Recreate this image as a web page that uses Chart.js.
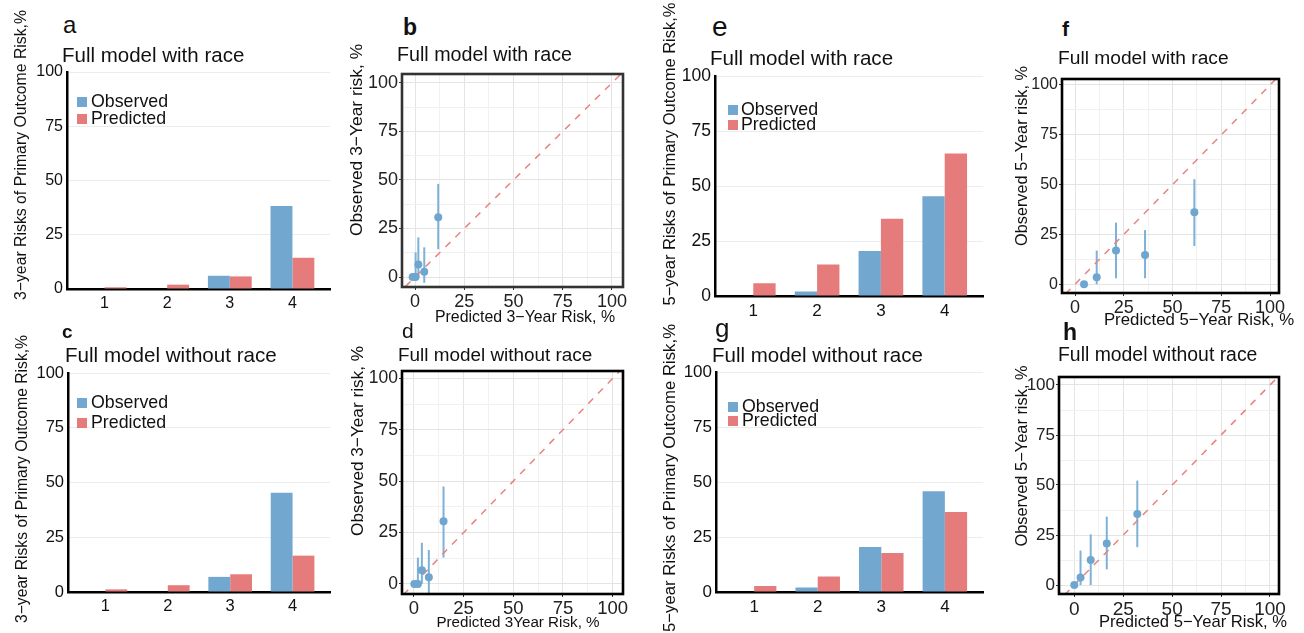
<!DOCTYPE html>
<html>
<head>
<meta charset="utf-8">
<script src="https://cdn.jsdelivr.net/npm/chart.js@4/dist/chart.umd.min.js"></script>
<style>
  html, body { margin: 0; padding: 0; background: #fff; }
  body { width: 1304px; height: 633px; overflow: hidden; position: relative; font-family: "Liberation Sans", Arial, sans-serif; }
  canvas { position: absolute; }
  .t { position: absolute; white-space: nowrap; color: #111; line-height: 1; z-index: 5; }
  .sq { position: absolute; width: 10px; height: 10px; z-index: 5; }
</style>
</head>
<body>
<script>
// ---------------- DATA ----------------
const riskGroups = [1, 2, 3, 4];
const barTicks = [0, 25, 50, 75, 100];
const calTicks = [0, 12.5, 25, 37.5, 50, 62.5, 75, 87.5, 100];
const identityLine = [-20, 120];

// (a) 3-year, with race
const obs3yRace = [0, 0, 6.1, 38.3];
const pred3yRace = [0.8, 2.0, 5.8, 14.4];
// (c) 3-year, without race
const obs3yNoRace = [0, 0, 6.9, 45.3];
const pred3yNoRace = [1.2, 3.1, 8.1, 16.6];
// (e) 5-year, with race
const obs5yRace = [0, 2.1, 20.5, 45.4];
const pred5yRace = [5.8, 14.4, 35.2, 64.9];
// (g) 5-year, without race
const obs5yNoRace = [0, 2.1, 20.5, 45.8];
const pred5yNoRace = [2.7, 7.0, 17.7, 36.4];

// (b) calibration 3-year, with race
const calB_pred = [-1.2, 0.3, 1.7, 4.7, 11.8];
const calB_obs  = [0, 0, 6.5, 2.7, 30.8];
const calB_lo   = [0, 0, 0, -3, 14.3];
const calB_hi   = [0, 12.7, 20.4, 15.3, 48.0];
// (d) calibration 3-year, without race
const calD_pred = [0.2, 2.0, 4.0, 7.5, 14.9];
const calD_obs  = [0, 0, 6.6, 3.3, 30.5];
const calD_lo   = [0, 0, 0, -6, 12.8];
const calD_hi   = [0, 12.8, 20.0, 16.5, 47.4];
// (f) calibration 5-year, with race
const calF_pred = [4.6, 11.1, 21.0, 35.9, 61.2];
const calF_obs  = [0, 3.5, 16.9, 14.7, 36.1];
const calF_lo   = [0, 0, 3.0, 3.0, 19.2];
const calF_hi   = [0, 16.9, 30.9, 27.2, 52.7];
// (h) calibration 5-year, without race
const calH_pred = [0, 3.2, 8.4, 16.6, 32.2];
const calH_obs  = [0, 3.7, 12.5, 20.8, 35.5];
const calH_lo   = [0, 0, 0, 7.8, 18.9];
const calH_hi   = [0, 17.2, 25.3, 34.2, 52.2];

// ---------------- STYLE ----------------
const FONT = '"Liberation Sans", Arial, sans-serif';
const BLUE = '#72A7CF';
const RED = '#E57C7B';
const PT_BLUE = '#6FA6D0';
const ERR_BLUE = '#7DB1D7';
const DIAG = '#E8837F';

function addText(txt, opts) {
  const d = document.createElement('div');
  d.className = 't';
  d.textContent = txt;
  d.style.fontSize = opts.size + 'px';
  if (opts.bold) d.style.fontWeight = 'bold';
  if (opts.rot) {
    d.style.left = opts.cx + 'px'; d.style.top = opts.cy + 'px';
    d.style.transform = 'translate(-50%,-50%) rotate(-90deg)';
  } else if (opts.center) {
    d.style.left = opts.cx + 'px'; d.style.top = opts.cy + 'px';
    d.style.transform = 'translate(-50%,-50%)';
  } else if (opts.baseline !== undefined) {
    d.style.left = opts.x + 'px';
    d.style.top = (opts.baseline - 0.8465 * opts.size) + 'px';
  } else {
    d.style.left = opts.x + 'px'; d.style.top = opts.cy + 'px';
    d.style.transform = 'translateY(-50%)';
  }
  document.body.appendChild(d);
}

function addLegend(sqX, textX, cyObs, cyPred, size) {
  [[BLUE, 'Observed', cyObs], [RED, 'Predicted', cyPred]].forEach(([col, lab, cy]) => {
    const s = document.createElement('div');
    s.className = 'sq';
    s.style.left = sqX + 'px'; s.style.top = (cy - 5) + 'px'; s.style.background = col;
    document.body.appendChild(s);
    addText(lab, {x: textX, cy: cy, size: size});
  });
}

function makeCanvas(left, top, w, h) {
  const c = document.createElement('canvas');
  c.width = w; c.height = h;
  c.style.left = left + 'px'; c.style.top = top + 'px';
  c.style.width = w + 'px'; c.style.height = h + 'px';
  document.body.appendChild(c);
  return c;
}

const framePlugin = {
  id: 'frame',
  afterDraw(chart, args, o) {
    if (!o || !o.show) return;
    const {ctx, chartArea: a} = chart;
    ctx.save();
    ctx.strokeStyle = o.color; ctx.lineWidth = o.width;
    ctx.strokeRect(a.left, a.top, a.right - a.left, a.bottom - a.top);
    ctx.restore();
  }
};

const errorBarPlugin = {
  id: 'errorBars',
  beforeDatasetsDraw(chart) {
    const {ctx, chartArea: a, scales: {x, y}} = chart;
    chart.data.datasets.forEach(ds => {
      if (!ds.errLow) return;
      ctx.save();
      ctx.beginPath();
      ctx.rect(a.left, a.top, a.right - a.left, a.bottom - a.top);
      ctx.clip();
      ctx.strokeStyle = ERR_BLUE; ctx.lineWidth = 2;
      ds.data.forEach((p, i) => {
        const lo = ds.errLow[i], hi = ds.errHigh[i];
        if (hi - lo <= 0) return;
        const px = x.getPixelForValue(p.x);
        ctx.beginPath();
        ctx.moveTo(px, y.getPixelForValue(lo));
        ctx.lineTo(px, y.getPixelForValue(hi));
        ctx.stroke();
      });
      ctx.restore();
    });
  }
};

function barPanel(area, obs, pred, fy, fx) {
  const yW = 50, xH = 34, pt = 14, pr = 8;
  const c = makeCanvas(area.l - yW, area.t - pt, area.r - area.l + yW + pr, area.b - area.t + pt + xH);
  new Chart(c, {
    type: 'bar',
    data: {
      datasets: [
        {label: 'Observed', data: riskGroups.map((g, i) => ({x: g, y: obs[i]})), backgroundColor: BLUE, borderWidth: 0},
        {label: 'Predicted', data: riskGroups.map((g, i) => ({x: g, y: pred[i]})), backgroundColor: RED, borderWidth: 0}
      ]
    },
    options: {
      responsive: false, animation: false, devicePixelRatio: 1,
      layout: {padding: {top: pt, right: pr, left: 0, bottom: 0}},
      plugins: {legend: {display: false}, tooltip: {enabled: false}},
      datasets: {bar: {categoryPercentage: 0.7, barPercentage: 1}},
      scales: {
        x: {
          type: 'linear', min: 0.4, max: 4.6, offset: false,
          afterBuildTicks: s => { s.ticks = riskGroups.map(v => ({value: v})); },
          afterFit: s => { s.height = xH; },
          grid: {display: false, drawTicks: false, offset: false},
          border: {display: true, color: '#000', width: 2.5},
          ticks: {font: {family: FONT, size: fx}, color: '#111', padding: 5, autoSkip: false, maxRotation: 0, callback: v => String(v)}
        },
        y: {
          type: 'linear', min: 0, max: 100,
          afterBuildTicks: s => { s.ticks = barTicks.map(v => ({value: v})); },
          afterFit: s => { s.width = yW; },
          grid: {color: '#ececec', lineWidth: 1, drawTicks: false},
          border: {display: true, color: '#000', width: 2.5},
          ticks: {font: {family: FONT, size: fy}, color: '#111', padding: 4, autoSkip: false, callback: v => String(v)}
        }
      }
    }
  });
}

function calPanel(area, xr, yr, px, py, lo, hi, fy, fx, frameColor) {
  const yW = 50, xH = 34, pt = 14, pr = 22;
  const c = makeCanvas(area.l - yW, area.t - pt, area.r - area.l + yW + pr, area.b - area.t + pt + xH);
  const gridCol = ctx => (ctx.tick && ctx.tick.value % 25 === 0) ? '#e4e4e4' : '#f1f1f1';
  const tickCol = ctx => (ctx.tick && ctx.tick.value % 25 === 0) ? '#333' : 'rgba(0,0,0,0)';
  const axisCommon = (fs) => ({
    type: 'linear',
    afterBuildTicks: s => { s.ticks = calTicks.map(v => ({value: v})); },
    grid: {color: gridCol, lineWidth: 1, drawTicks: true, tickLength: 3, tickColor: tickCol, tickWidth: 1},
    border: {display: false},
    ticks: {font: {family: FONT, size: fs}, color: '#222', padding: 1, autoSkip: false, maxRotation: 0,
            callback: v => (v % 25 === 0 ? String(v) : '')}
  });
  new Chart(c, {
    type: 'scatter',
    data: {
      datasets: [
        {data: px.map((v, i) => ({x: v, y: py[i]})), errLow: lo, errHigh: hi,
         pointRadius: 4, pointBackgroundColor: PT_BLUE, pointBorderWidth: 0, order: 0},
        {data: identityLine.map(v => ({x: v, y: v})), showLine: true, borderColor: DIAG, borderWidth: 1.5,
         borderDash: [7, 7], pointRadius: 0, order: 1}
      ]
    },
    options: {
      responsive: false, animation: false, devicePixelRatio: 1,
      layout: {padding: {top: pt, right: pr, left: 0, bottom: 0}},
      plugins: {legend: {display: false}, tooltip: {enabled: false},
                frame: {show: true, color: frameColor, width: 2.6}},
      scales: {
        x: Object.assign(axisCommon(fx), {min: xr[0], max: xr[1], afterFit: s => { s.height = xH; }}),
        y: Object.assign(axisCommon(fy), {min: yr[0], max: yr[1], afterFit: s => { s.width = yW; }})
      }
    },
    plugins: [framePlugin, errorBarPlugin]
  });
}

// ---------------- PANELS ----------------
// a
barPanel({l: 67, t: 72, r: 330, b: 289}, obs3yRace, pred3yRace, 16, 16);
// c
barPanel({l: 68, t: 373, r: 330, b: 592}, obs3yNoRace, pred3yNoRace, 16.5, 16.5);
// e
barPanel({l: 715, t: 76, r: 983, b: 296}, obs5yRace, pred5yRace, 17.5, 17);
// g
barPanel({l: 716, t: 372, r: 983, b: 592}, obs5yNoRace, pred5yNoRace, 17, 17);

// b
calPanel({l: 402, t: 74, r: 623, b: 287}, [-6.6, 105.6], [-5.15, 104.6], calB_pred, calB_obs, calB_lo, calB_hi, 18, 18, '#333');
// d
calPanel({l: 402, t: 371, r: 623, b: 594}, [-6.0, 105.2], [-4.9, 103.6], calD_pred, calD_obs, calD_lo, calD_hi, 17.5, 18.5, '#000');
// f
calPanel({l: 1062, t: 79, r: 1279, b: 293}, [-6.7, 104.6], [-4.4, 103.0], calF_pred, calF_obs, calF_lo, calF_hi, 16, 18, '#000');
// h
calPanel({l: 1059, t: 377, r: 1279, b: 594}, [-7.8, 104.6], [-4.5, 104.0], calH_pred, calH_obs, calH_lo, calH_hi, 17, 19, '#000');

// ---------------- TEXT ----------------
// panel letters
addText('a', {x: 63, baseline: 33, size: 24});
addText('b', {x: 403, baseline: 35, size: 23, bold: true});
addText('c', {x: 62, baseline: 338, size: 19, bold: true});
addText('d', {x: 402, baseline: 338, size: 21});
addText('e', {x: 712, baseline: 37, size: 28});
addText('f', {x: 1062, baseline: 36, size: 21, bold: true});
addText('g', {x: 715, baseline: 337, size: 26});
addText('h', {x: 1063, baseline: 340, size: 23, bold: true});

// panel titles
addText('Full model with race', {x: 62, cy: 55, size: 20.5});
addText('Full model with race', {x: 397, cy: 55, size: 19.7});
addText('Full model with race', {x: 710, cy: 58, size: 20.6});
addText('Full model with race', {x: 1058, cy: 58, size: 19.2});
addText('Full model without race', {x: 65, cy: 355, size: 20.6});
addText('Full model without race', {x: 398, cy: 355, size: 18.9});
addText('Full model without race', {x: 712, cy: 355, size: 20.5});
addText('Full model without race', {x: 1058, cy: 355, size: 19.4});

// y axis titles
addText('3\u2212year Risks of Primary Outcome Risk,%', {rot: true, cx: 21, cy: 155, size: 15.8});
addText('3\u2212year Risks of Primary Outcome Risk,%', {rot: true, cx: 22, cy: 479, size: 15.7});
addText('5\u2212year Risks of Primary Outcome Risk,%', {rot: true, cx: 669, cy: 154, size: 16.5});
addText('5\u2212year Risks of Primary Outcome Risk,%', {rot: true, cx: 670, cy: 478, size: 16.8});
addText('Observed 3\u2212Year risk, %', {rot: true, cx: 357, cy: 140, size: 17.4});
addText('Observed 3\u2212Year risk, %', {rot: true, cx: 358, cy: 441, size: 17.2});
addText('Observed 5\u2212Year risk, %', {rot: true, cx: 1021, cy: 156, size: 16.3});
addText('Observed 5\u2212Year risk, %', {rot: true, cx: 1021, cy: 456, size: 16.4});

// x axis titles
addText('Predicted 3\u2212Year Risk, %', {center: true, cx: 525, cy: 317, size: 15.9});
addText('Predicted 3Year Risk, %', {center: true, cx: 518, cy: 622, size: 15.2});
addText('Predicted 5\u2212Year Risk, %', {center: true, cx: 1199, cy: 320, size: 16.8});
addText('Predicted 5\u2212Year Risk, %', {center: true, cx: 1193, cy: 622, size: 16.6});

// legends
addLegend(77, 91, 102, 119, 17.8);
addLegend(77, 91, 403, 423, 17.8);
addLegend(728, 741, 110, 125, 17.8);
addLegend(728, 742, 407, 421, 17.8);
</script>
</body>
</html>
